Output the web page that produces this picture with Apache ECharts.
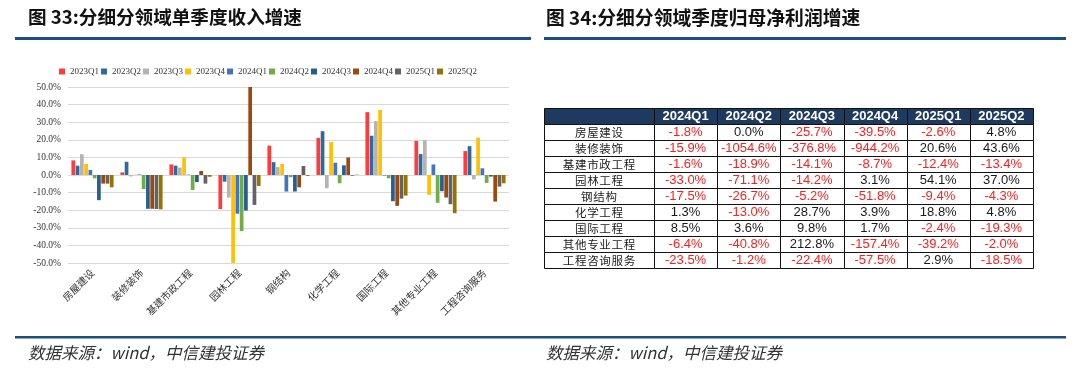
<!DOCTYPE html>
<html><head><meta charset="utf-8">
<script src="https://cdn.jsdelivr.net/npm/echarts@6/dist/echarts.min.js"></script>
<style>html,body{margin:0;padding:0;background:#fff}#c{width:1080px;height:374px}</style>
</head><body><div id="c"></div>
<script>
// ---------- Left chart data ----------
const categories = ['房屋建设','装修装饰','基建市政工程','园林工程','钢结构','化学工程','国际工程','其他专业工程','工程咨询服务'];
const seriesNames = ['2023Q1','2023Q2','2023Q3','2023Q4','2024Q1','2024Q2','2024Q3','2024Q4','2025Q1','2025Q2'];
const s2023Q1 = [8.3, 1.5, 6.0, -19.4, 16.7, 21.1, 35.7, 19.4, 13.6];
const s2023Q2 = [5.3, 7.5, 5.3, -3.8, 7.3, 24.9, 22.3, 11.9, 16.4];
const s2023Q3 = [11.8, -0.8, 4.2, -12.8, 4.5, -7.5, 30.6, 19.8, -2.5];
const s2023Q4 = [6.3, 0.2, 10.0, -50.0, 6.3, 18.7, 37.0, -11.3, 21.3];
const s2024Q1 = [2.9, 0.3, 0.2, -22.0, -9.4, 7.0, -0.3, 6.0, 3.8];
const s2024Q2 = [-1.9, -8.0, -8.5, -31.9, -1.3, -4.7, -1.9, -15.8, -4.5];
const s2024Q3 = [-14.3, -19.2, -4.0, -20.2, -9.4, 5.5, -14.9, -9.2, -0.9];
const s2024Q4 = [-4.9, -19.2, 2.3, 50.0, -7.0, 10.0, -17.5, -12.8, -15.1];
const s2025Q1 = [-4.9, -19.3, -4.9, -17.0, 5.1, -0.4, -13.4, -16.6, -6.6];
const s2025Q2 = [-7.0, -19.5, -1.0, -6.2, -0.5, 0.2, -11.7, -21.7, -4.7];
const barValues = [s2023Q1, s2023Q2, s2023Q3, s2023Q4, s2024Q1, s2024Q2, s2024Q3, s2024Q4, s2025Q1, s2025Q2];
const yTicks = [-50, -40, -30, -20, -10, 0, 10, 20, 30, 40, 50];

// ---------- Right table data ----------
const tableQuarters = ['2024Q1','2024Q2','2024Q3','2024Q4','2025Q1','2025Q2'];
const tableRows = ['房屋建设','装修装饰','基建市政工程','园林工程','钢结构','化学工程','国际工程','其他专业工程','工程咨询服务'];
const p2024Q1 = [-1.8, -15.9, -1.6, -33.0, -17.5, 1.3, 8.5, -6.4, -23.5];
const p2024Q2 = [0.0, -1054.6, -18.9, -71.1, -26.7, -13.0, 3.6, -40.8, -1.2];
const p2024Q3 = [-25.7, -376.8, -14.1, -14.2, -5.2, 28.7, 9.8, 212.8, -22.4];
const p2024Q4 = [-39.5, -944.2, -8.7, 3.1, -51.8, 3.9, 1.7, -157.4, -57.5];
const p2025Q1 = [-2.6, 20.6, -12.4, 54.1, -9.4, 18.8, -2.4, -39.2, 2.9];
const p2025Q2 = [4.8, 43.6, -13.4, 37.0, -4.3, 4.8, -19.3, -2.0, -18.5];
const tableValues = [p2024Q1, p2024Q2, p2024Q3, p2024Q4, p2025Q1, p2025Q2];

// ---------- Styles ----------
const colors = ['#FF3B3B','#2E6A9C','#B4B4B4','#FFC000','#4472C4','#70AD47','#255E91','#9E480E','#636363','#997300'];
const SERIF = '"Liberation Serif","Times New Roman",serif';
const SANS = '"Liberation Sans",Arial,sans-serif';
const CJK = '"Noto Sans CJK SC","Noto Sans",sans-serif';
const NAVY = '#1B4F80';
const HEAD = '#1F3A5F';

const chart = echarts.init(document.getElementById('c'), null, {renderer: 'canvas'});

// Table cells
const rowAxis = [''].concat(tableRows);
const valueCells = [];
tableQuarters.forEach((q, c) => {
  valueCells.push({value: [c, 0], text: q, head: true, neg: false});
  tableRows.forEach((r, i) => {
    const v = tableValues[c][i];
    valueCells.push({value: [c, i + 1], text: v.toFixed(1) + '%', head: false, neg: v < 0});
  });
});
const labelCells = [{value: [0, 0], text: '', head: true}];
tableRows.forEach((r, i) => labelCells.push({value: [0, i + 1], text: r.split('').join('\u200a'), head: false, label: true}));

function makeRender(cells) {
  return function (params, api) {
    const cell = cells[params.dataIndex];
    const p = api.coord([api.value(0), api.value(1)]);
    const s = api.size([1, 1]);
    const x0 = Math.round(p[0] - s[0] / 2) + 0.5, y0 = Math.round(p[1] - s[1] / 2) + 0.5;
    const x1 = Math.round(p[0] + s[0] / 2) + 0.5, y1 = Math.round(p[1] + s[1] / 2) + 0.5;
    return {
      type: 'group',
      children: [
        {type: 'rect', shape: {x: x0, y: y0, width: x1 - x0, height: y1 - y0},
         style: {fill: cell.head ? HEAD : '#fff', stroke: '#111', lineWidth: 1}},
        {type: 'text', style: {
          x: p[0], y: p[1] + 0.5, text: cell.text, align: 'center', verticalAlign: 'middle',
          fill: cell.head ? '#fff' : (cell.neg ? '#FF1E1E' : '#1a1a1a'),
          font: cell.head ? ('bold 13px ' + SANS) : (cell.label ? ('11.5px ' + CJK) : ('13px ' + SANS))
        }}
      ]
    };
  };
}

const series = seriesNames.map((n, k) => ({
  name: n, type: 'bar', xAxisIndex: 0, yAxisIndex: 0,
  data: barValues[k], itemStyle: {color: colors[k]},
  barCategoryGap: '14%', barGap: '15%'
}));
series.push({
  type: 'custom', xAxisIndex: 1, yAxisIndex: 1, data: valueCells.map(d => d.value),
  renderItem: makeRender(valueCells), silent: true
});
series.push({
  type: 'custom', xAxisIndex: 2, yAxisIndex: 2, data: labelCells.map(d => d.value),
  renderItem: makeRender(labelCells), silent: true
});

const option = {
  animation: false,
  backgroundColor: '#fff',
  legend: {
    data: seriesNames, top: 62, left: 54, itemWidth: 6, itemHeight: 6, itemGap: 2,
    icon: 'rect', textStyle: {fontFamily: SERIF, fontSize: 9, color: '#333'}
  },
  grid: [
    {left: 68, right: 571, top: 87, height: 176},
    {left: 654, right: 47, top: 108, height: 160},
    {left: 544, width: 110, top: 108, height: 160}
  ],
  xAxis: [
    {type: 'category', gridIndex: 0, data: categories,
     axisLine: {show: false, onZero: false}, axisTick: {show: false},
     axisLabel: {rotate: 45, margin: 8, fontFamily: CJK, fontSize: 10, color: '#333', interval: 0}},
    {type: 'category', gridIndex: 1, data: tableQuarters, show: false},
    {type: 'category', gridIndex: 2, data: [''], show: false}
  ],
  yAxis: [
    {type: 'value', gridIndex: 0, min: yTicks[0], max: yTicks[yTicks.length - 1], interval: 10,
     axisLine: {show: false}, axisTick: {show: false},
     splitLine: {lineStyle: {color: '#D9D9D9', width: 1}},
     axisLabel: {formatter: v => v.toFixed(1) + '%', fontFamily: SERIF, fontSize: 9.5, color: '#333', margin: 7}},
    {type: 'category', gridIndex: 1, data: rowAxis, inverse: true, show: false},
    {type: 'category', gridIndex: 2, data: rowAxis, inverse: true, show: false}
  ],
  graphic: [
    {type: 'text', left: 28, top: 8, style: {text: '图 33:分细分领域单季度收入增速', font: 'bold 18.6px ' + CJK, fill: '#111'}},
    {type: 'text', left: 546, top: 8, style: {text: '图 34:分细分领域季度归母净利润增速', font: 'bold 18.8px ' + CJK, fill: '#111'}},
    {type: 'rect', shape: {x: 15, y: 37, width: 516, height: 3}, style: {fill: NAVY}},
    {type: 'rect', shape: {x: 544, y: 37, width: 522, height: 3}, style: {fill: NAVY}},
    {type: 'rect', shape: {x: 15, y: 336, width: 1051, height: 2.5}, style: {fill: NAVY}},
    {type: 'text', left: 28, top: 344, style: {text: '数据来源：wind，中信建投证券', font: 'italic 16.5px ' + CJK, fill: '#333'}},
    {type: 'text', left: 546, top: 344, style: {text: '数据来源：wind，中信建投证券', font: 'italic 16.5px ' + CJK, fill: '#333'}}
  ],
  series: series
};
chart.setOption(option);
</script></body></html>
